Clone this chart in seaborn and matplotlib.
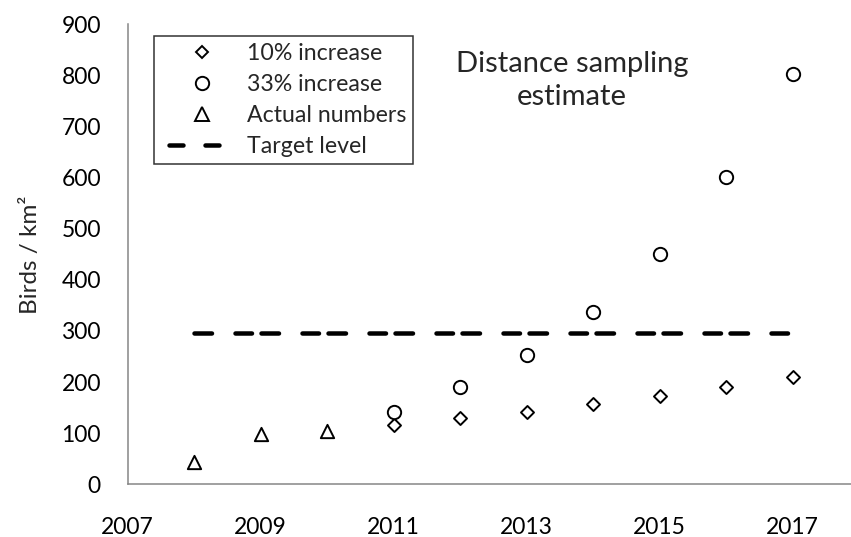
import numpy as np
import pandas as pd
import matplotlib
matplotlib.use("Agg")
import matplotlib.pyplot as plt
from matplotlib.lines import Line2D
import seaborn as sns

# values
years_actual = [2008, 2009, 2010]
actual_numbers = [44, 99, 105]

years_est = [2011, 2012, 2013, 2014, 2015, 2016, 2017]
increase_10 = [117, 129, 141, 157, 172, 190, 209]
increase_33 = [142, 190, 253, 338, 451, 601, 802]

years_target = [2008, 2009, 2010, 2011, 2012, 2013, 2014, 2015, 2016, 2017]
target_level = [296] * len(years_target)

labels = ["10% increase", "33% increase", "Actual numbers", "Target level"]

sns.set_style("white")
plt.rcParams["font.family"] = ["Lato", "DejaVu Sans"]
plt.rcParams["lines.scale_dashes"] = False

PX = 0.72  # points per pixel at dpi 100
grey = "#868686"

fig = plt.figure(figsize=(8.51, 5.37), dpi=100)
# x axis runs to 2018, past the right edge of the picture
ax = fig.add_axes([127.7 / 851, 1 - 484.3 / 537, 731.5 / 851, 460 / 537])

df_target = pd.DataFrame({"year": years_target, "birds": target_level})
sns.lineplot(data=df_target, x="year", y="birds", color="black",
             linewidth=4.5 * PX, ax=ax, zorder=2)
tline = ax.lines[-1]
tline.set_linestyle((0, (17.5 * PX, 23.5 * PX, 16.5 * PX, 9.5 * PX)))
tline.set_dash_capstyle("round")

mk = dict(facecolor="white", edgecolor="black", linewidth=1.4, zorder=3, ax=ax)
sns.scatterplot(x=years_est, y=increase_10, marker="D", s=44, **mk)
sns.scatterplot(x=years_est, y=increase_33, marker="o", s=92, **mk)
sns.scatterplot(x=years_actual, y=actual_numbers, marker="^", s=92, **mk)

ax.set_xlim(2007, 2018)
ax.set_ylim(0, 900)
ax.set_xticks(np.arange(2007, 2018, 2))
ax.set_yticks(np.arange(0, 901, 100))
ax.set_xlabel("")
ax.set_ylabel("Birds / km²", fontsize=17.5)
ax.yaxis.set_label_coords(-0.1185, 0.5)

for side in ["top", "right"]:
    ax.spines[side].set_visible(False)
for side in ["left", "bottom"]:
    ax.spines[side].set_color(grey)
    ax.spines[side].set_linewidth(1.1)
ax.tick_params(axis="both", direction="out", length=6.3, width=1.1,
               color=grey, labelsize=16.5, labelcolor="black")
ax.tick_params(axis="y", pad=13)
ax.tick_params(axis="x", pad=17)

ax.text(2013.68, 790, "Distance sampling\nestimate", fontsize=21,
        ha="center", va="center", linespacing=1.36)

# legend
legend_line = Line2D([], [], color="black", linewidth=4.5 * PX,
                     dash_capstyle="round",
                     linestyle=(142 * PX, (14 * PX, 22 * PX, 14 * PX, 100 * PX)))
handles = [
    Line2D([], [], marker="D", ms=6.6, mfc="white", mec="black", mew=1.4, ls="none"),
    Line2D([], [], marker="o", ms=9.6, mfc="white", mec="black", mew=1.4, ls="none"),
    Line2D([], [], marker="^", ms=9.6, mfc="white", mec="black", mew=1.4, ls="none"),
    legend_line,
]
leg = fig.legend(handles, labels, loc="upper left",
                 bbox_to_anchor=(154 / 851, 1 - 36 / 537),
                 bbox_transform=fig.transFigure, borderaxespad=0,
                 fontsize=16.7, frameon=True, fancybox=False,
                 borderpad=0.3, handlelength=3.55, handletextpad=0.144,
                 labelspacing=0.43)
leg.get_frame().set_edgecolor("black")
leg.get_frame().set_linewidth(1.1)

fig.savefig("out.png", dpi=100)
